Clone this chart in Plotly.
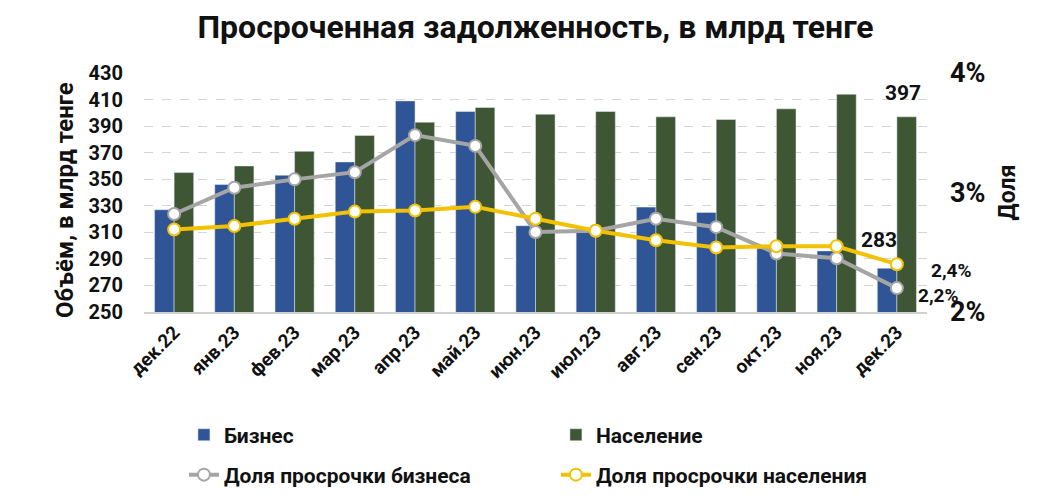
import plotly.graph_objects as go

categories = ["дек.22", "янв.23", "фев.23", "мар.23", "апр.23", "май.23", "июн.23",
              "июл.23", "авг.23", "сен.23", "окт.23", "ноя.23", "дек.23"]
business = [327, 346, 353, 363, 409, 401, 315, 311, 329, 325, 298, 296, 283]
population = [355, 360, 371, 383, 393, 404, 399, 401, 397, 395, 403, 414, 397]
share_business = [0.0282, 0.0304, 0.0311, 0.0317, 0.0348, 0.0339, 0.0267, 0.0268,
                  0.0278, 0.0271, 0.0249, 0.0245, 0.022]
share_population = [0.0269, 0.0272, 0.0278, 0.0284, 0.0285, 0.0288, 0.0278, 0.0268,
                    0.0260, 0.0254, 0.0255, 0.0255, 0.024]

FONT = "Roboto"
BLUE = "#2F5597"
GREEN = "#3E5634"
GREY = "#A5A5A5"
YELLOW = "#F2C100"

fig = go.Figure()
fig.add_trace(go.Bar(x=categories, y=business, name="Бизнес", marker_color=BLUE,
                     legend="legend"))
fig.add_trace(go.Bar(x=categories, y=population, name="Население", marker_color=GREEN,
                     legend="legend"))
fig.add_trace(go.Scatter(x=categories, y=share_business, name="Доля просрочки бизнеса",
                         yaxis="y2", mode="lines+markers",
                         line=dict(color=GREY, width=4),
                         marker=dict(size=12, color="white", line=dict(color=GREY, width=2)),
                         legend="legend2"))
fig.add_trace(go.Scatter(x=categories, y=share_population, name="Доля просрочки населения",
                         yaxis="y2", mode="lines+markers",
                         line=dict(color=YELLOW, width=4),
                         marker=dict(size=12, color="white", line=dict(color=YELLOW, width=2)),
                         legend="legend2"))

annotations = [
    dict(x=categories[-1], y=population[-1], xref="x", yref="y", text=str(population[-1]),
         showarrow=False, xshift=6, yshift=24, font=dict(size=21, color="#111")),
    dict(x=categories[-1], y=business[-1], xref="x", yref="y", text=str(business[-1]),
         showarrow=False, xshift=-18, yshift=28, font=dict(size=21, color="#111")),
    dict(x=categories[-1], y=share_population[-1], xref="x", yref="y2",
         text=f"{share_population[-1]*100:.1f}%".replace(".", ","),
         showarrow=False, xshift=55, yshift=-6, font=dict(size=19, color="#111")),
    dict(x=categories[-1], y=share_business[-1], xref="x", yref="y2",
         text=f"{share_business[-1]*100:.1f}%".replace(".", ","),
         showarrow=False, xshift=42, yshift=-7, font=dict(size=19, color="#111")),
    dict(x=-0.1009, y=0.4686, xref="paper", yref="paper", text="Объём, в млрд тенге",
         textangle=-90, showarrow=False, xanchor="center", yanchor="middle",
         font=dict(size=24, color="#111")),
]

fig.update_layout(
    width=1032, height=495,
    margin=dict(l=136, r=113, t=65, b=191, autoexpand=False),
    paper_bgcolor="white", plot_bgcolor="white",
    font=dict(family=FONT, color="#111", weight="bold"),
    title=dict(text="Просроченная задолженность, в млрд тенге", x=0.5, xref="paper",
               xanchor="center", y=0.985, yanchor="top",
               font=dict(size=32, family=FONT, color="#111", weight="bold")),
    barmode="group", bargap=0.35, bargroupgap=0,
    showlegend=True,
    xaxis=dict(range=[-0.5, 12.5], tickangle=-45, tickfont=dict(size=19), showline=True,
               linecolor="#D0D0D0", linewidth=1.5, ticks="", showgrid=False,
               automargin=False),
    yaxis=dict(range=[250, 430], dtick=20, tick0=250, tickfont=dict(size=20), showgrid=True,
               gridcolor="#D4D4D4", griddash="dash", gridwidth=1, zeroline=False,
               ticks="", ticklabelstandoff=20, automargin=False),
    yaxis2=dict(range=[0.02, 0.04], overlaying="y", side="right",
                tickvals=[0.02, 0.03, 0.04], ticktext=["2%", "3%", "4%"],
                tickfont=dict(size=27), showgrid=False, zeroline=False,
                title=dict(text="Доля", font=dict(size=23), standoff=14),
                ticks="", ticklabelstandoff=22, automargin=False),
    legend=dict(orientation="h", x=0.051, y=-0.515, xanchor="left", yanchor="middle",
                entrywidth=327, entrywidthmode="pixels", font=dict(size=21),
                bgcolor="rgba(0,0,0,0)"),
    legend2=dict(orientation="h", x=0.051, y=-0.682, xanchor="left", yanchor="middle",
                 entrywidth=327, entrywidthmode="pixels", font=dict(size=21),
                 bgcolor="rgba(0,0,0,0)"),
    annotations=annotations,
)

fig.write_html("out.html")
